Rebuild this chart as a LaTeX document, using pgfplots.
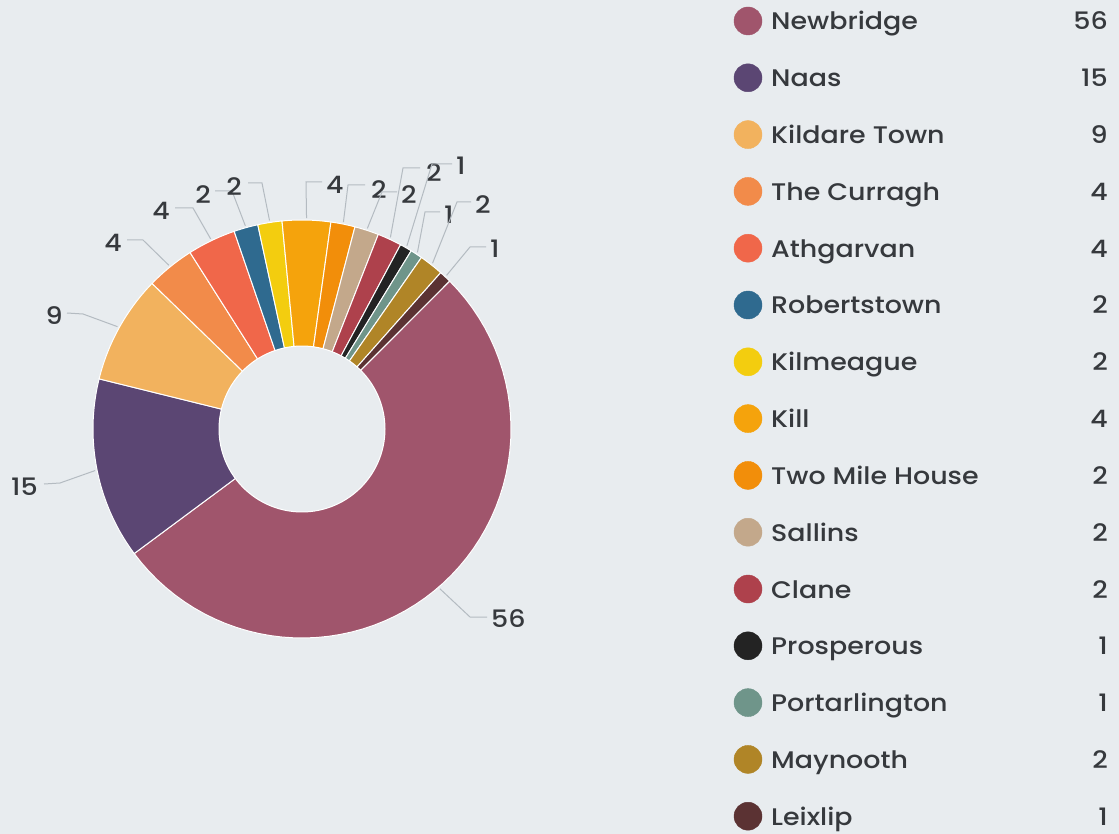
\documentclass[border=0pt]{standalone}
\usepackage{pgfplots}
\pgfplotsset{compat=1.18}
\usepackage{pgfplotstable}
\usepackage{fontspec}
\setmainfont{Poppins Medium}[FakeStretch=1.12]
\definecolor{bg}{HTML}{E8ECEF}
\definecolor{txt}{HTML}{36393D}
\definecolor{lead}{HTML}{B4BBC1}
\definecolor{cNew}{HTML}{A0556C}
\definecolor{cNaas}{HTML}{5B4673}
\definecolor{cKild}{HTML}{F2B25E}
\definecolor{cCurr}{HTML}{F28B4A}
\definecolor{cAthg}{HTML}{F0674A}
\definecolor{cRobe}{HTML}{2F6A8F}
\definecolor{cKilm}{HTML}{F3CD0F}
\definecolor{cKill}{HTML}{F5A30C}
\definecolor{cTwoM}{HTML}{F28E0A}
\definecolor{cSall}{HTML}{C3A88B}
\definecolor{cClan}{HTML}{AE414C}
\definecolor{cPros}{HTML}{232323}
\definecolor{cPort}{HTML}{6F958A}
\definecolor{cMayn}{HTML}{B08527}
\definecolor{cLeix}{HTML}{5B3233}

\pgfplotstableread[col sep=comma]{
name,value,col,kx,ky,hx,hy,lx,ly,anc
Newbridge,56,cNew,470,617,487,617,491,627.5,base west
Naas,15,cNaas,60,483,44,484,38,495.5,base east
Kildare Town,9,cKild,83,314,67,313,63,324.5,base east
The Curragh,4,cCurr,143,240,127,240,122,251.5,base east
Athgarvan,4,cAthg,193,208,175,208,170,219.5,base east
Robertstown,2,cRobe,232,191,215,191,211,203.5,base east
Kilmeague,2,cKilm,262,183,248,183,242,195.5,base east
Kill,4,cKill,306,182,322,182,326,193.5,base west
Two Mile House,2,cTwoM,348,185,365,185,371,198.5,base west
Sallins,2,cSall,382,192,397,192,401,203.5,base west
Clane,2,cClan,403,168,420,168,426,181.5,base west
Prosperous,1,cPros,432,164,452,164,456,174.5,base west
Portarlington,1,cPort,425,212,440,212,444,223.5,base west
Maynooth,2,cMayn,457,202,471,202,475,213.5,base west
Leixlip,1,cLeix,470,247,486,247,490,257.5,base west
}\data

\tikzset{lab/.style={font=\fontsize{24}{29}\selectfont, text=txt, inner sep=0pt}}

\begin{document}
\begin{tikzpicture}
\begin{axis}[hide axis, x=1pt, y=1pt, xmin=0, xmax=1119, ymin=0, ymax=834,
  y dir=reverse, clip=false, scale only axis]
\fill[bg] (rel axis cs:0,0) rectangle (rel axis cs:1,1);
\pgfplotstablegetrowsof{\data}
\pgfmathtruncatemacro\nrows{\pgfplotsretval-1}
\def\total{0}
\pgfplotsforeachungrouped \i in {0,...,\nrows}{%
  \pgfplotstablegetelem{\i}{value}\of\data
  \pgfmathsetmacro\total{\total+\pgfplotsretval}%
}
\def\cum{45}
\pgfplotsforeachungrouped \i in {0,...,\nrows}{%
  \pgfplotstablegetelem{\i}{value}\of\data \let\myv\pgfplotsretval
  \pgfplotstablegetelem{\i}{col}\of\data \let\myc\pgfplotsretval
  \pgfplotstablegetelem{\i}{name}\of\data \let\myn\pgfplotsretval
  \pgfplotstablegetelem{\i}{kx}\of\data \let\mykx\pgfplotsretval
  \pgfplotstablegetelem{\i}{ky}\of\data \let\myky\pgfplotsretval
  \pgfplotstablegetelem{\i}{hx}\of\data \let\myhx\pgfplotsretval
  \pgfplotstablegetelem{\i}{hy}\of\data \let\myhy\pgfplotsretval
  \pgfplotstablegetelem{\i}{lx}\of\data \let\mylx\pgfplotsretval
  \pgfplotstablegetelem{\i}{ly}\of\data \let\myly\pgfplotsretval
  \pgfplotstablegetelem{\i}{anc}\of\data \let\myanc\pgfplotsretval
  \pgfmathsetmacro\myb{\cum-\myv/\total*360}%
  \pgfmathsetmacro\mymid{(\cum+\myb)/2}%
  \pgfmathsetmacro\myex{302+211*cos(\mymid)}%
  \pgfmathsetmacro\myey{429-211*sin(\mymid)}%
  \pgfmathsetmacro\legy{21+56.8*\i}%
  \pgfmathsetmacro\legt{\legy+9}%
  \edef\temp{%
    \noexpand\addplot[fill=\myc, draw=white, line width=1pt, domain=\myb:\cum, samples=60]
      ({302+209*cos(x)},{429-209*sin(x)}) -- (axis cs:302,429) -- cycle;
    \noexpand\addplot[lead, line width=1pt] coordinates {(\myex,\myey) (\mykx,\myky) (\myhx,\myhy)};
    \noexpand\node[lab, anchor=\myanc] at (axis cs:\mylx,\myly) {\myv};
    \noexpand\addplot[only marks, mark=*, mark size=14pt, color=\myc] coordinates {(748,\legy)};
    \noexpand\node[lab, anchor=base west] at (axis cs:771,\legt) {\myn};
    \noexpand\node[lab, anchor=base east] at (axis cs:1108,\legt) {\myv};
  }%
  \temp
  \let\cum\myb
}
\addplot[fill=bg, draw=white, line width=1pt, domain=0:360, samples=120]
  ({302+83*cos(x)},{429-83*sin(x)}) -- cycle;
\end{axis}
\end{tikzpicture}
\end{document}
